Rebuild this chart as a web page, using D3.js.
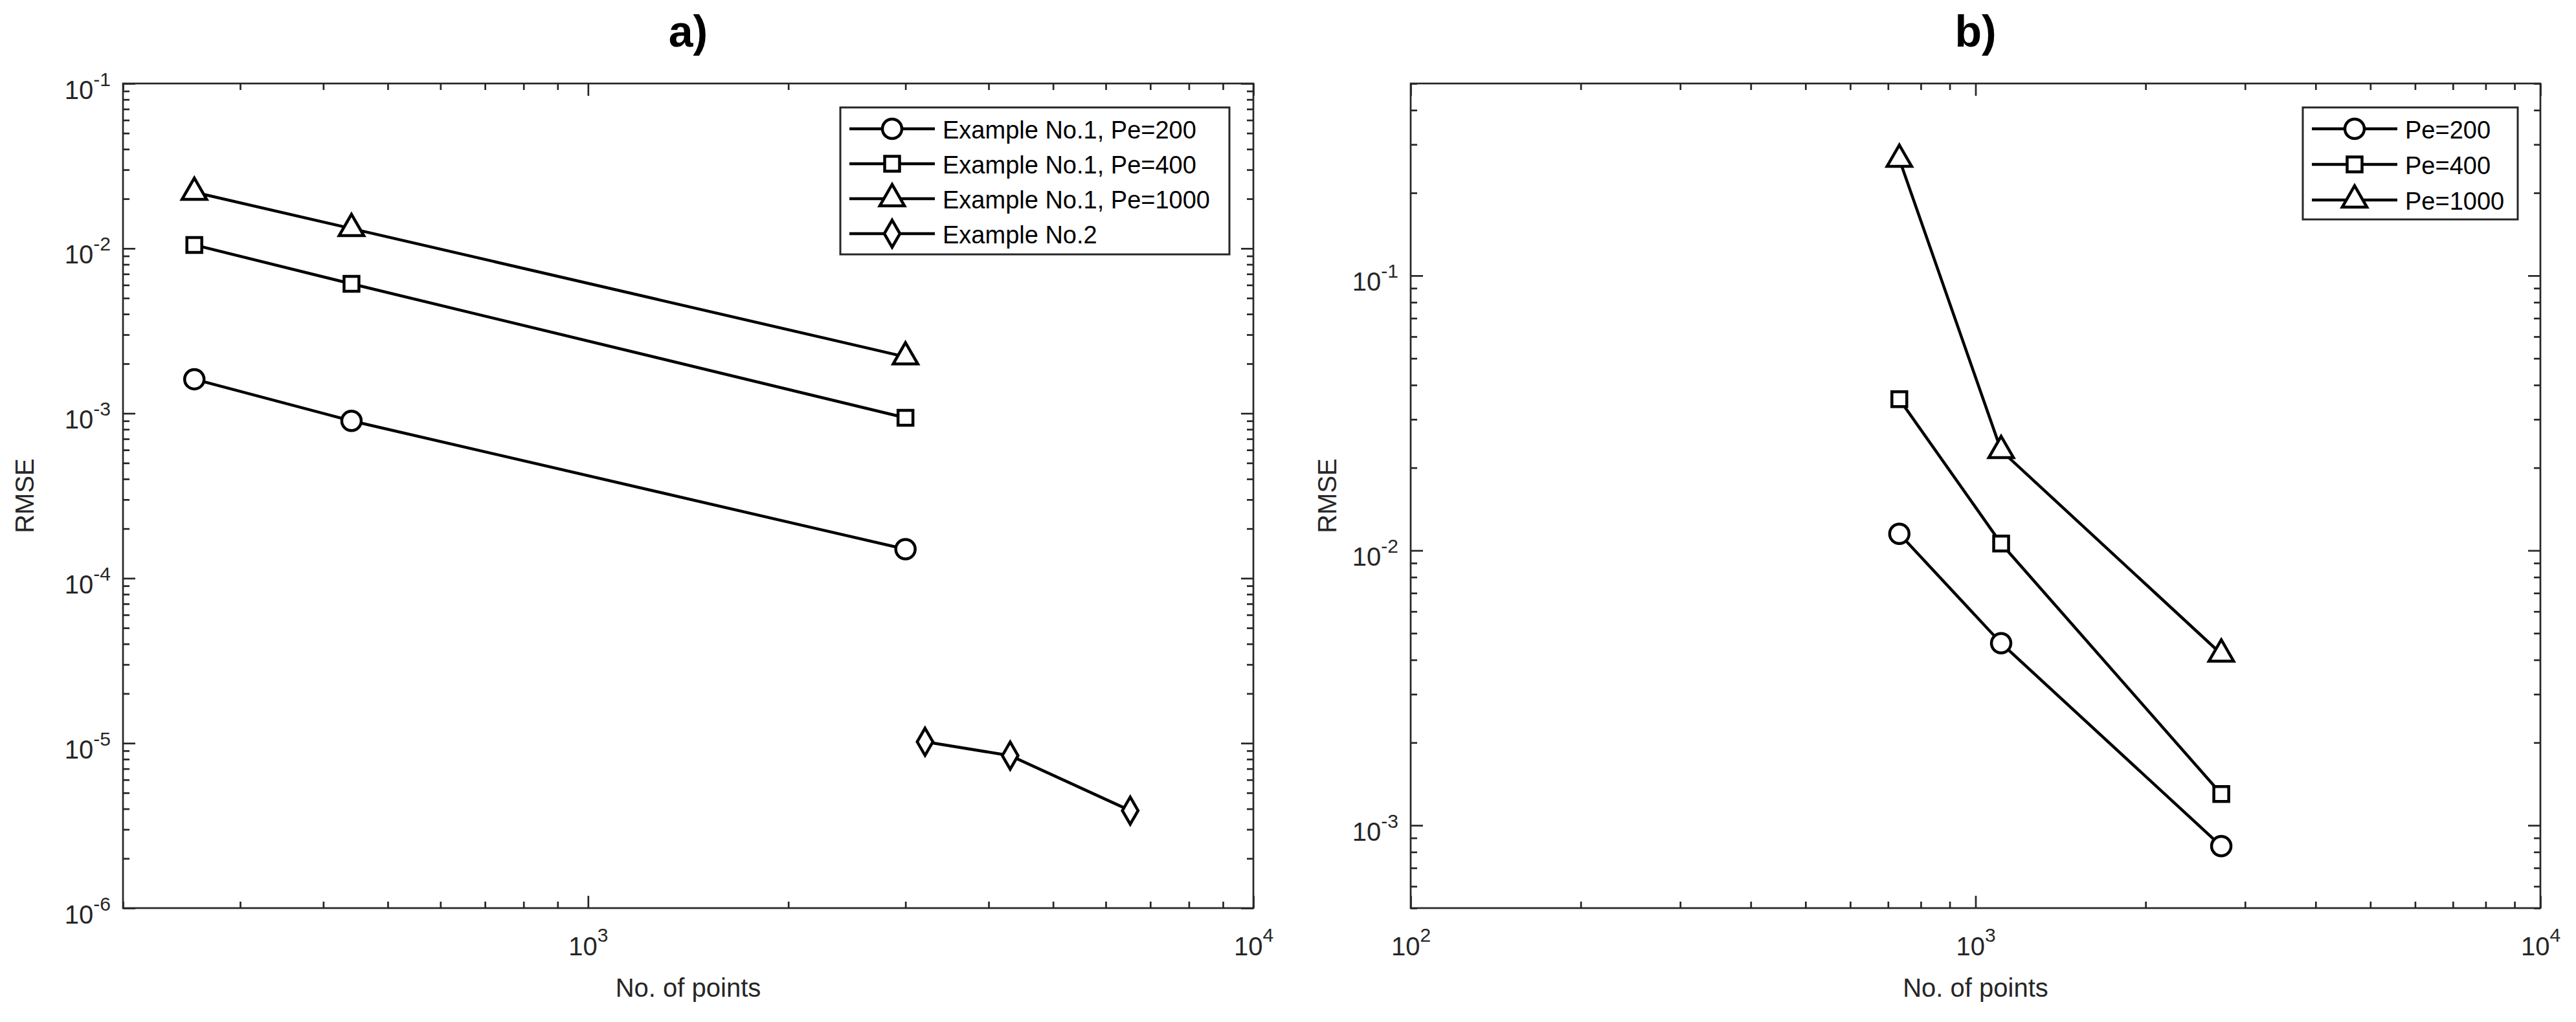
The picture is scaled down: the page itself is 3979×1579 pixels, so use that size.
<!DOCTYPE html>
<html>
<head>
<meta charset="utf-8">
<script src="https://cdn.jsdelivr.net/npm/d3@7"></script>
<style>
  body { margin: 0; background: #fff; }
  text { font-family: 'Liberation Sans', Arial, sans-serif; }
</style>
</head>
<body>
<div class="chart"></div>
<script>
// DATA
// ----------------------------
// panel a) - number of points vs RMSE
const ex1Points = [256, 441, 3000]
const ex1Pe200 = [1.61e-3, 9.0e-4, 1.5e-4]
const ex1Pe400 = [1.05e-2, 6.1e-3, 9.4e-4]
const ex1Pe1000 = [2.19e-2, 1.32e-2, 2.2e-3]
const ex2Points = [3210, 4310, 6530]
const ex2Rmse = [1.02e-5, 8.4e-6, 3.9e-6]
const legendA = ['Example No.1, Pe=200', 'Example No.1, Pe=400', 'Example No.1, Pe=1000', 'Example No.2']

// panel b)
const bPoints = [733, 1110, 2723]
const bPe200 = [1.15e-2, 4.6e-3, 8.4e-4]
const bPe400 = [3.55e-2, 1.06e-2, 1.3e-3]
const bPe1000 = [0.265, 2.31e-2, 4.2e-3]
const legendB = ['Pe=200', 'Pe=400', 'Pe=1000']

const titles = ['a)', 'b)']
const xLabel = 'No. of points'
const yLabel = 'RMSE'
// ----------------------------

const W = 3979, H = 1579
const axisColor = '#262626'

const svg = d3.select('.chart')
  .append('svg')
    .attr('width', W)
    .attr('height', H)
svg.append('rect').attr('width', W).attr('height', H).attr('fill', '#fff')

const zip = (xs, ys) => xs.map((v, i) => [v, ys[i]])

const panels = [
  {
    title: titles[0],
    left: 190, right: 1936, top: 129, bottom: 1403,
    xDomain: [200, 1e4], yDomain: [1e-6, 1e-1],
    yLabelX: 52,
    legend: { x: 1298, y: 166, w: 601, h: 227, step: 54 },
    series: [
      { name: legendA[0], symbol: 'circle', data: zip(ex1Points, ex1Pe200) },
      { name: legendA[1], symbol: 'square', data: zip(ex1Points, ex1Pe400) },
      { name: legendA[2], symbol: 'triangle', data: zip(ex1Points, ex1Pe1000) },
      { name: legendA[3], symbol: 'diamond', data: zip(ex2Points, ex2Rmse) }
    ]
  },
  {
    title: titles[1],
    left: 2179, right: 3924, top: 129, bottom: 1403,
    xDomain: [100, 1e4], yDomain: [5e-4, 0.5],
    yLabelX: 2064,
    legend: { x: 3557, y: 166, w: 332, h: 173, step: 55 },
    series: [
      { name: legendB[0], symbol: 'circle', data: zip(bPoints, bPe200) },
      { name: legendB[1], symbol: 'square', data: zip(bPoints, bPe400) },
      { name: legendB[2], symbol: 'triangle', data: zip(bPoints, bPe1000) }
    ]
  }
]

// marker shapes (sizes are areas for d3.symbol)
const symbols = {
  circle: d3.symbol().type(d3.symbolCircle).size(707),
  square: d3.symbol().type(d3.symbolSquare).size(529),
  triangle: d3.symbol().type(d3.symbolTriangle).size(629),
  diamond: d3.symbol().type(d3.symbolDiamond).size(509)
}

// decades and their 2..9 multiples inside a domain
function logTicks(domain) {
  const major = [], minor = []
  const lo = Math.floor(Math.log10(domain[0])), hi = Math.ceil(Math.log10(domain[1]))
  for (let e = lo; e <= hi; e++) {
    for (let m = 1; m < 10; m++) {
      const v = +(m * Math.pow(10, e)).toPrecision(6)
      if (v < domain[0] * 0.999 || v > domain[1] * 1.001) continue
      if (m === 1) major.push(v)
      else minor.push(v)
    }
  }
  return { major, minor }
}

function supLabel(sel, d, supDy) {
  sel.text(null)
  sel.append('tspan').text('10')
  sel.append('tspan').attr('dy', supDy).attr('font-size', 30).text(Math.round(Math.log10(d)))
}

function drawPanel(p) {
  const x = d3.scaleLog().domain(p.xDomain).range([p.left, p.right])
  const y = d3.scaleLog().domain(p.yDomain).range([p.bottom, p.top])
  const xt = logTicks(p.xDomain)
  const yt = logTicks(p.yDomain)
  const g = svg.append('g')

  // ticks on all four sides, pointing inward
  const sides = [
    { make: d3.axisBottom, scale: x, t: xt, tr: `translate(0,${p.bottom})`, labels: 'x' },
    { make: d3.axisTop, scale: x, t: xt, tr: `translate(0,${p.top})` },
    { make: d3.axisLeft, scale: y, t: yt, tr: `translate(${p.left},0)`, labels: 'y' },
    { make: d3.axisRight, scale: y, t: yt, tr: `translate(${p.right},0)` }
  ]
  sides.forEach(s => {
    [['minor', 10], ['major', 19]].forEach(([kind, len]) => {
      const ax = g.append('g')
        .attr('transform', s.tr)
        .call(s.make(s.scale).tickValues(s.t[kind]).tickSizeInner(-len).tickSizeOuter(0).tickFormat(() => ''))
      ax.select('.domain').remove()
      ax.selectAll('.tick line').attr('stroke', axisColor).attr('stroke-width', 2.7)
      if (kind === 'major' && s.labels === 'x') {
        ax.selectAll('.tick text').each(function (d) {
          const t = d3.select(this).attr('y', 73).attr('dy', null).attr('font-size', 40).attr('fill', axisColor)
          supLabel(t, d, -21)
        })
      } else if (kind === 'major' && s.labels === 'y') {
        ax.selectAll('.tick text').each(function (d) {
          const t = d3.select(this).attr('x', -19).attr('y', 23).attr('dy', null).attr('font-size', 40).attr('fill', axisColor)
          supLabel(t, d, -20)
        })
      } else {
        ax.selectAll('.tick text').remove()
      }
    })
  })

  // box
  g.append('rect')
    .attr('x', p.left).attr('y', p.top)
    .attr('width', p.right - p.left).attr('height', p.bottom - p.top)
    .attr('fill', 'none').attr('stroke', axisColor).attr('stroke-width', 2.7)

  // series lines then markers
  const line = d3.line().x(d => x(d[0])).y(d => y(d[1]))
  p.series.forEach(s => {
    g.append('path').attr('d', line(s.data)).attr('fill', 'none').attr('stroke', '#000').attr('stroke-width', 4.5)
    g.selectAll(null)
      .data(s.data)
      .enter()
      .append('path')
      .attr('d', symbols[s.symbol])
      .attr('transform', d => `translate(${x(d[0])},${y(d[1])})`)
      .attr('fill', '#fff').attr('stroke', '#000').attr('stroke-width', 4.5)
  })

  // labels and title
  g.append('text')
    .attr('x', (p.left + p.right) / 2).attr('y', 1540)
    .attr('text-anchor', 'middle').attr('font-size', 40).attr('fill', axisColor)
    .text(xLabel)
  g.append('text')
    .attr('transform', `translate(${p.yLabelX},${(p.top + p.bottom) / 2}) rotate(-90)`)
    .attr('text-anchor', 'middle').attr('font-size', 40).attr('fill', axisColor)
    .text(yLabel)
  g.append('text')
    .attr('x', (p.left + p.right) / 2).attr('y', 72)
    .attr('text-anchor', 'middle').attr('font-size', 68).attr('font-weight', 'bold').attr('fill', '#000')
    .text(p.title)

  // legend
  const L = p.legend
  const lg = g.append('g').attr('transform', `translate(${L.x},${L.y})`)
  lg.append('rect').attr('width', L.w).attr('height', L.h)
    .attr('fill', '#fff').attr('stroke', axisColor).attr('stroke-width', 3)
  p.series.forEach((s, i) => {
    const cy = 33 + i * L.step
    lg.append('line').attr('x1', 14).attr('x2', 146).attr('y1', cy).attr('y2', cy)
      .attr('stroke', '#000').attr('stroke-width', 4.5)
    lg.append('path').attr('d', symbols[s.symbol]).attr('transform', `translate(80,${cy})`)
      .attr('fill', '#fff').attr('stroke', '#000').attr('stroke-width', 4.5)
    lg.append('text').attr('x', 158).attr('y', cy + 15).attr('font-size', 38).attr('fill', '#000')
      .text(s.name)
  })
}

panels.forEach(drawPanel)
</script>
</body>
</html>
